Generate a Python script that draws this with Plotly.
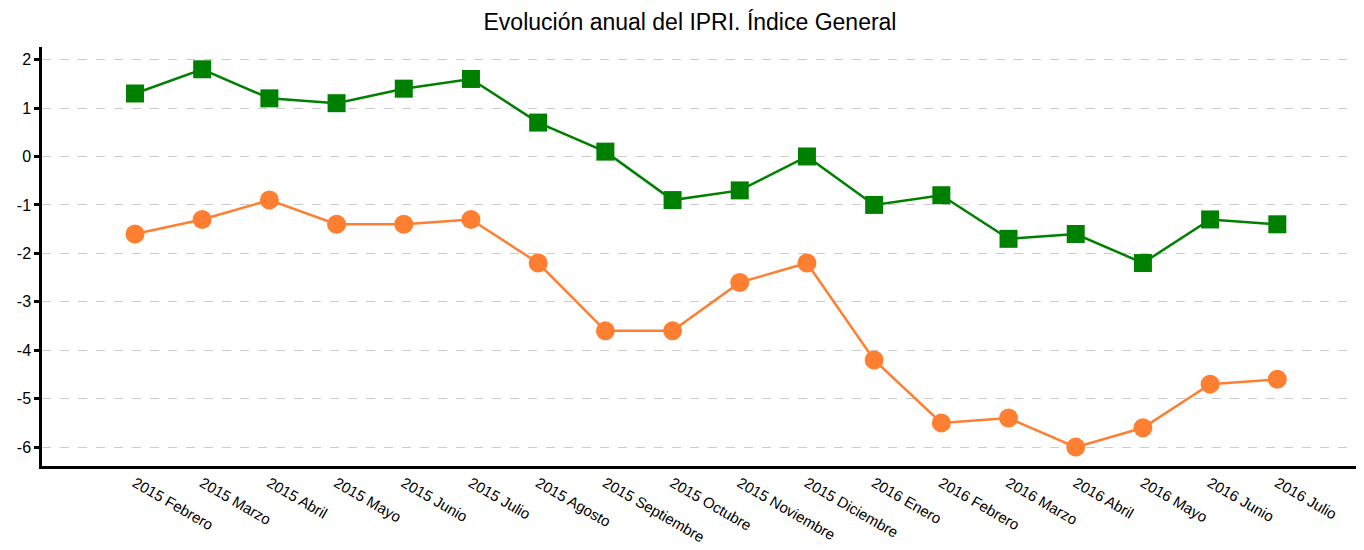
import plotly.graph_objects as go

categories = ["2015 Febrero", "2015 Marzo", "2015 Abril", "2015 Mayo", "2015 Junio", "2015 Julio",
              "2015 Agosto", "2015 Septiembre", "2015 Octubre", "2015 Noviembre", "2015 Diciembre",
              "2016 Enero", "2016 Febrero", "2016 Marzo", "2016 Abril", "2016 Mayo", "2016 Junio", "2016 Julio"]
green_values = [1.3, 1.8, 1.2, 1.1, 1.4, 1.6, 0.7, 0.1, -0.9, -0.7, 0.0, -1.0, -0.8, -1.7, -1.6, -2.2, -1.3, -1.4]
orange_values = [-1.6, -1.3, -0.9, -1.4, -1.4, -1.3, -2.2, -3.6, -3.6, -2.6, -2.2, -4.2, -5.5, -5.4, -6.0, -5.6, -4.7, -4.6]
y_ticks = [2, 1, 0, -1, -2, -3, -4, -5, -6]

fig = go.Figure()
fig.add_trace(go.Scatter(x=categories, y=green_values, mode="lines+markers",
                         line=dict(color="#008000", width=2.5),
                         marker=dict(symbol="square", size=18, color="#008000"),
                         name="Índice General"))
fig.add_trace(go.Scatter(x=categories, y=orange_values, mode="lines+markers",
                         line=dict(color="#FF7F32", width=2.5),
                         marker=dict(symbol="circle", size=19, color="#FF7F32"),
                         name="Índice General (2)"))

fig.update_layout(
    width=1364, height=550,
    margin=dict(l=34, r=8, t=39, b=92),
    paper_bgcolor="white", plot_bgcolor="white",
    showlegend=False,
    font=dict(family="Liberation Sans, Arial, sans-serif", color="black", size=15),
    title=dict(text="Evolución anual del IPRI. Índice General", x=0.5, xanchor="center",
               y=0.9745, yanchor="middle", font=dict(size=23, color="black")),
)
fig.update_xaxes(type="category", range=[-1.384, 18.29], tickangle=30,
                 showline=True, linecolor="black", linewidth=2.5,
                 showgrid=False, ticks="", tickfont=dict(size=15))
fig.update_yaxes(range=[-6.39, 2.26], tickvals=y_ticks, ticktext=[str(v) for v in y_ticks],
                 showline=True, linecolor="black", linewidth=2.5,
                 ticks="outside", ticklen=5, tickwidth=2.5, tickcolor="black",
                 showgrid=True, gridcolor="#cccccc", griddash="dash", gridwidth=1,
                 zeroline=False, tickfont=dict(size=16))

fig.write_html("out.html")
